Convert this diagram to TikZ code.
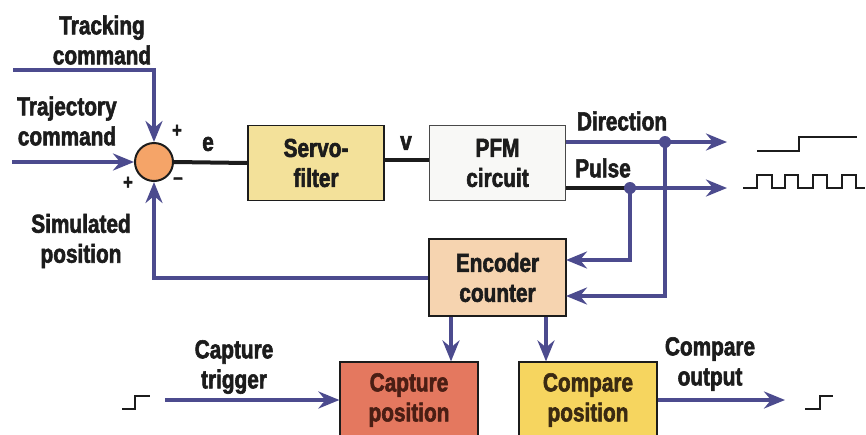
\documentclass[tikz,border=0pt]{standalone}
\usepackage{fontspec}
\setmainfont[FakeStretch=0.8, BoldFeatures={FakeBold=2.2}]{Liberation Sans}
\usetikzlibrary{arrows.meta,calc}

\definecolor{flowblue}{HTML}{4C4B8E}
\definecolor{inkdark}{HTML}{1C1C1C}
\definecolor{servofill}{HTML}{F3E19A}
\definecolor{pfmfill}{HTML}{F8F8F6}
\definecolor{encfill}{HTML}{F6D4B0}
\definecolor{capfill}{HTML}{E4785F}
\definecolor{cmpfill}{HTML}{F6D55F}
\definecolor{sumfill}{HTML}{F5A468}
\definecolor{captext}{HTML}{4A1E14}
\definecolor{cmptext}{HTML}{3A2A12}

\tikzset{
  lbl/.style={font=\fontsize{26}{30}\selectfont\bfseries, text=inkdark, align=center, inner sep=0pt},
  sign/.style={font=\fontsize{21}{24}\selectfont\bfseries, text=inkdark, inner sep=0pt},
  block/.style={draw=inkdark, line width=1.2pt, minimum width=136pt, minimum height=75pt,
    font=\fontsize{26}{30}\selectfont\bfseries, text=inkdark, align=center, inner sep=0pt},
  flow/.style={draw=flowblue, line width=4pt,
    -{Stealth[length=21pt, width=17pt, inset=7pt]}},
  flowline/.style={draw=flowblue, line width=4pt},
  sigline/.style={draw=inkdark, line width=4pt},
  junction/.style={circle, fill=flowblue, minimum size=12pt, inner sep=0pt},
  wave/.style={draw=inkdark, line width=1.4pt},
}

\begin{document}
\begin{tikzpicture}[x=1pt, y=-1pt]
\useasboundingbox (0,0) rectangle (866,434);
\clip (0,0) rectangle (866,434);

% summing junction and blocks
\node[circle, draw=inkdark, line width=2pt, fill=sumfill, minimum size=38pt, inner sep=0pt] (sum) at (154,162) {};
\node[block, fill=servofill] (servo) at (316,163) {Servo-\\filter};
\node[block, fill=pfmfill, draw=inkdark!80] (pfm) at (497.5,163) {PFM\\circuit};
\node[block, fill=encfill, minimum width=137pt, minimum height=77pt] (enc) at (497.5,277.5) {Encoder\\counter};
\node[block, fill=capfill, minimum width=138pt, minimum height=76pt, text=captext] (cap) at (409,400) {Capture\\position};
\node[block, fill=cmpfill, minimum width=138pt, minimum height=76pt, text=cmptext] (cmp) at (588,400) {Compare\\position};

% input labels
\node[lbl] (ltrack) at (102,40) {Tracking\\command};
\node[lbl] (ltraj) at (67,121) {Trajectory\\command};
\node[lbl] (lsim) at (81,241) {Simulated\\position};
\node[lbl] (ltrig) at (234,367) {Capture\\trigger};
\node[lbl] (lcout) at (710,364) {Compare\\output};
\node[lbl] (ldir) at (622,121) {Direction};
\node[lbl] (lpulse) at (603,168) {Pulse};

% signs and signal names
\node[sign] (s1) at (177,131) {+};
\node[sign] (s2) at (128,183) {+};
\node[sign] (s3) at (178,181) {\textendash};
\node[lbl] (le) at (208,144) {e};
\node[lbl] (lv) at (406,143) {v};

% command inputs
\coordinate (trkin) at (13,70);
\coordinate (trajin) at (12,162);
\draw[flow] (trkin) -| (sum.north);
\draw[flow] (trajin) -- (sum.west);

% forward path
\draw[sigline] (sum.east) -- (servo.west);
\draw[sigline] (servo.east |- 0,160) -- (pfm.west |- 0,160);

% direction output and its tap
\coordinate (dirout) at (727,142);
\coordinate (dirtap) at (665,142);
\draw[flow] (pfm.east |- dirout) -- (dirout);
\coordinate (dirin) at (566,296);
\draw[flow] (dirtap) |- (dirin);
\node[junction] (ddot) at (dirtap) {};

% pulse output and its tap
\coordinate (pulout) at (727,188);
\coordinate (pultap) at (630,188);
\draw[sigline] (pfm.east |- pulout) -- (pultap);
\draw[flow] (pultap) -- (pulout);
\draw[flowline] (dirtap |- 0,182) -- (dirtap |- 0,194);
\coordinate (pulin) at (566,260);
\draw[flow] (pultap) |- (pulin);
\node[junction] (pdot) at (pultap) {};

% feedback
\draw[flow] (enc.west) -| (sum.south);

% encoder to capture / compare
\draw[flow] (enc.south -| 451,0) -- (cap.north -| 451,0);
\draw[flow] (enc.south -| 546,0) -- (cmp.north -| 546,0);

% trigger in, compare out
\coordinate (trgin) at (165,400);
\draw[flow] (trgin) -- (cap.west |- trgin);
\coordinate (cmpout) at (785,400);
\draw[flow] (cmp.east |- cmpout) -- (cmpout);

% waveforms
\draw[wave] (757,151) -- (799,151) -- (799,137) -- (857,137);
\draw[wave] (743,188) -- (757,188)
  -- (757,175) -- (772,175) -- (772,188) -- (785,188)
  -- (785,175) -- (798,175) -- (798,188) -- (813,188)
  -- (813,175) -- (827,175) -- (827,188) -- (842,188)
  -- (842,175) -- (856,175) -- (856,188) -- (865,188);
\draw[wave] (122,409) -- (135,409) -- (135,396) -- (150,396);
\draw[wave] (805,409) -- (820,409) -- (820,396) -- (833,396);
\end{tikzpicture}
\end{document}
